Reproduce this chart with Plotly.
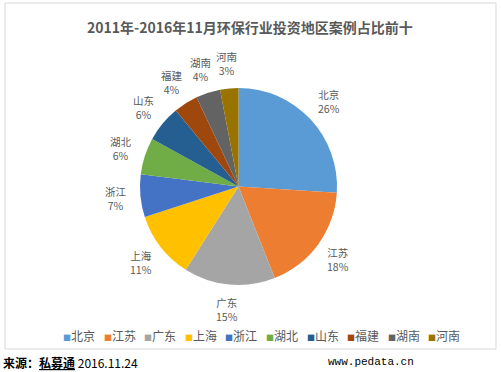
import math
import plotly.graph_objects as go

regions = ["北京", "江苏", "广东", "上海", "浙江", "湖北", "山东", "福建", "湖南", "河南"]
shares = [26, 18, 15, 11, 7, 6, 6, 4, 4, 3]
colors = ["#5B9BD5", "#ED7D31", "#A5A5A5", "#FFC000", "#4472C4",
          "#70AD47", "#255E91", "#9E480E", "#636363", "#997300"]
title_text = "2011年-2016年11月环保行业投资地区案例占比前十"
source_text = "来源：私募通 2016.11.24"
site_text = "www.pedata.cn"

W, H = 501, 372
cx, cy, R = 238.5, 186.5, 98.5
dom_x = [(cx - R) / W, (cx + R) / W]
dom_y = [1 - (cy + R) / H, 1 - (cy - R) / H]

fig = go.Figure(go.Pie(
    labels=regions, values=shares, sort=False, direction="clockwise",
    rotation=0, marker=dict(colors=colors, line=dict(width=0)),
    textinfo="none", hoverinfo="label+percent",
    domain=dict(x=dom_x, y=dom_y), showlegend=False,
))

annotations = []
total = sum(shares)
cum = 0
for name, v in zip(regions, shares):
    mid = (cum + v / 2) / total * 2 * math.pi
    cum += v
    rl = R + 25
    px = cx + rl * math.sin(mid)
    py = cy - rl * math.cos(mid)
    annotations.append(dict(
        x=px / W, y=1 - py / H, xref="paper", yref="paper",
        text=f"{name}<br>{round(v / total * 100)}%", showarrow=False,
        font=dict(size=10.5, color="#595959", family="Noto Sans CJK SC"),
        align="center", xanchor="center", yanchor="middle", borderpad=0,
    ))

# legend drawn as text items
for i, (name, col) in enumerate(zip(regions, colors)):
    lx = 62 + i * 40.6
    annotations.append(dict(
        x=lx / W, y=1 - 335 / H, xref="paper", yref="paper",
        text=f"<span style='color:{col};font-size:8px'>■</span>{name}",
        showarrow=False, font=dict(size=12, color="#595959", family="Noto Sans CJK SC"),
        xanchor="left", yanchor="middle", borderpad=0))

annotations.append(dict(
    x=250 / W, y=1 - 27 / H, xref="paper", yref="paper", text=f"<b>{title_text}</b>",
    showarrow=False, font=dict(size=14, color="#595959", family="Noto Sans CJK SC"),
    xanchor="center", yanchor="middle"))
annotations.append(dict(
    x=1 / W, y=1 - 362 / H, xref="paper", yref="paper",
    text="<b>来源：<u>私募通</u></b> 2016.11.24",
    showarrow=False, font=dict(size=12, color="#000000", family="Noto Sans CJK SC"),
    xanchor="left", yanchor="middle"))
annotations.append(dict(
    x=416 / W, y=1 - 362 / H, xref="paper", yref="paper", text=site_text,
    showarrow=False, font=dict(size=11, color="#000000", family="Liberation Mono"),
    xanchor="right", yanchor="middle"))

fig.update_layout(
    width=W, height=H, margin=dict(l=0, r=0, t=0, b=0),
    paper_bgcolor="white", plot_bgcolor="white",
    annotations=annotations, showlegend=False,
    shapes=[dict(type="rect", xref="paper", yref="paper",
                 x0=5 / W, x1=496 / W, y0=1 - 349 / H, y1=1 - 3 / H,
                 line=dict(color="#D9D9D9", width=1), fillcolor="rgba(0,0,0,0)", layer="below")],
)

fig.write_html("out.html", config={"displayModeBar": False},
               post_script="document.body.style.margin='0';")
